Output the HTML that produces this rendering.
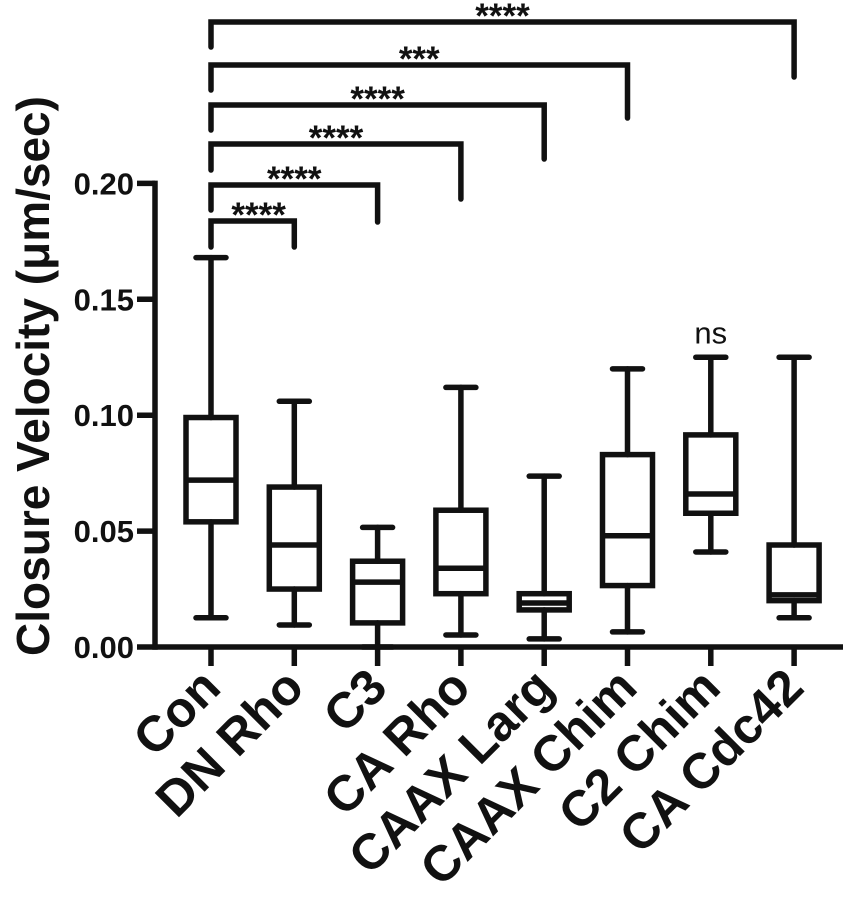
<!DOCTYPE html>
<html><head><meta charset="utf-8"><style>
html,body{margin:0;padding:0;background:#fff;}
svg{display:block;font-family:"Liberation Sans",Arial,sans-serif;}
</style></head><body>
<svg id="chart" width="853" height="899" viewBox="0 0 853 899" xmlns="http://www.w3.org/2000/svg"></svg>
<script>
const categories = ["Con","DN Rho","C3","CA Rho","CAAX Larg","CAAX Chim","C2 Chim","CA Cdc42"];
const whiskerMax = [0.168,0.106,0.0516,0.112,0.0737,0.120,0.125,0.125];
const q3Values = [0.099,0.069,0.037,0.059,0.023,0.083,0.0915,0.044];
const medianValues = [0.072,0.044,0.028,0.034,0.019,0.048,0.066,0.0225];
const q1Values = [0.054,0.025,0.0104,0.023,0.016,0.0265,0.0577,0.020];
const whiskerMin = [0.0126,0.0095,0.0,0.0052,0.0035,0.0065,0.041,0.0126];
const yTicks = [0,0.05,0.10,0.15,0.20];
const yTickLabels = ["0.00","0.05","0.10","0.15","0.20"];
const compTargets = [1,2,3,4,5,7];
const compLabels = ["****","****","****","****","***","****"];
const nsLabel = {index:6, text:"ns"};

const svg = document.getElementById('chart');
const NS = "http://www.w3.org/2000/svg";
const axisX = 155, axisBottom = 647, pxPerUnit = 2318;
const x0 = 211, step = 83.3;
function yScale(v){ return axisBottom - v*pxPerUnit; }
function xScale(i){ return x0 + i*step; }
function el(tag, attrs, parent){
  const e = document.createElementNS(NS, tag);
  for (const k in attrs) e.setAttribute(k, attrs[k]);
  (parent||svg).appendChild(e);
  return e;
}
const LW = 5.5;
const ya = el('line',{x1:axisX,y1:yScale(0.20)-LW/2,x2:axisX,y2:axisBottom+LW/2,stroke:'#111','stroke-width':LW});


const xa = el('line',{x1:axisX,y1:axisBottom,x2:843,y2:axisBottom,stroke:'#111','stroke-width':LW});


yTicks.forEach((t,i)=>{
  const tk = el('line',{x1:137,y1:yScale(t),x2:axisX,y2:yScale(t),stroke:'#111','stroke-width':LW});
  
  
  const tl = el('text',{x:134,y:yScale(t)+11,'text-anchor':'end','font-size':31,'font-weight':'bold',fill:'#111'});
  tl.textContent = yTickLabels[i];
  
  
});
const yt = el('text',{x:0,y:0,'text-anchor':'middle','font-size':46,'font-weight':'bold',fill:'#111',transform:'translate(49,376) rotate(-90)'});
yt.textContent = "Closure Velocity (\u03bcm/sec)";



categories.forEach((c,i)=>{
  const x = xScale(i);
  const tk = el('line',{x1:x,y1:axisBottom,x2:x,y2:666,stroke:'#111','stroke-width':LW});
  
  
  const lb = el('text',{x:0,y:0,'text-anchor':'end','font-size':50,'font-weight':'bold',fill:'#111',transform:`translate(${x+12},690) rotate(-45)`});
  lb.textContent = c;
  
  

  const g = el('g',{stroke:'#111','stroke-width':LW,fill:'none','stroke-linecap':'round'});
  
  
  const bw = 25, cw = 15;
  el('line',{x1:x,y1:yScale(whiskerMax[i]),x2:x,y2:yScale(q3Values[i])},g);
  el('line',{x1:x,y1:yScale(q1Values[i]),x2:x,y2:yScale(whiskerMin[i])},g);
  el('line',{x1:x-cw,y1:yScale(whiskerMax[i]),x2:x+cw,y2:yScale(whiskerMax[i])},g);
  el('line',{x1:x-cw,y1:yScale(whiskerMin[i]),x2:x+cw,y2:yScale(whiskerMin[i])},g);
  el('rect',{x:x-bw,y:yScale(q3Values[i]),width:2*bw,height:yScale(q1Values[i])-yScale(q3Values[i]),'stroke-linecap':'butt'},g);
  el('line',{x1:x-bw,y1:yScale(medianValues[i]),x2:x+bw,y2:yScale(medianValues[i]),'stroke-linecap':'butt'},g);
});

const barY = [221,185,144,105,65,22];
const leftBottom = [247,210,170,130,90,47];
const rightBottom = [247,222,199,159,118,77];
compTargets.forEach((t,k)=>{
  const xl = xScale(0), xr = xScale(t);
  const g = el('g',{stroke:'#111','stroke-width':LW,fill:'none','stroke-linecap':'round','stroke-linejoin':'miter'});
  
  
  el('path',{d:`M${xl},${leftBottom[k]} L${xl},${barY[k]} L${xr},${barY[k]} L${xr},${rightBottom[k]}`},g);
  const st = el('text',{x:(xl+xr)/2+(k===0?6:0),y:barY[k]+6,'text-anchor':'middle','font-size':35,'font-weight':'bold',fill:'#111'});
  st.textContent = compLabels[k];
  
  
});
const ns = el('text',{x:xScale(nsLabel.index),y:yScale(whiskerMax[nsLabel.index])-14,'text-anchor':'middle','font-size':31,fill:'#111'});
ns.textContent = nsLabel.text;


</script>
</body></html>
